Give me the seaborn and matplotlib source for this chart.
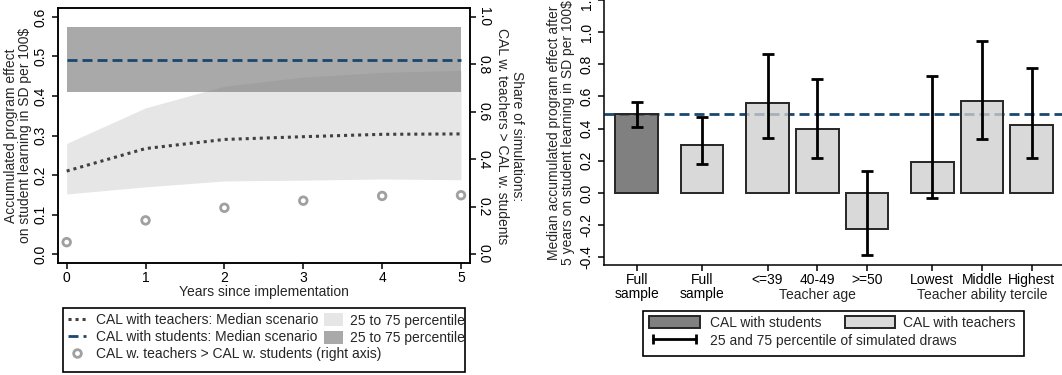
import matplotlib
matplotlib.use("Agg")
import matplotlib.pyplot as plt
from matplotlib.lines import Line2D
from matplotlib.patches import Patch, Rectangle
import seaborn as sns
import pandas as pd

# left panel: accumulated effect over time
years = [0, 1, 2, 3, 4, 5]
teach_median = [0.21, 0.267, 0.29, 0.297, 0.303, 0.304]
teach_p25 = [0.152, 0.17, 0.185, 0.187, 0.19, 0.188]
teach_p75 = [0.28, 0.37, 0.425, 0.448, 0.46, 0.465]
stud_median = 0.49
stud_p25 = 0.41
stud_p75 = 0.575
share_teach_better = [0.05, 0.142, 0.195, 0.225, 0.245, 0.248]

# right panel: effect after 5 years by subgroup
bar_labels = ["Full\nsample", "Full\nsample", "<=39", "40-49", ">=50",
              "Lowest", "Middle", "Highest"]
bar_group = ["students", "teachers", "age", "age", "age",
             "ability", "ability", "ability"]
bar_kind = ["CAL with students"] + ["CAL with teachers"] * 7
bar_median = [0.49, 0.30, 0.56, 0.40, -0.225, 0.19, 0.575, 0.42]
bar_p25 = [0.41, 0.18, 0.34, 0.215, -0.385, -0.03, 0.335, 0.215]
bar_p75 = [0.565, 0.47, 0.865, 0.71, 0.135, 0.73, 0.945, 0.775]
group_titles = {"age": "Teacher age", "ability": "Teacher ability tercile"}

sns.set_style("ticks")
plt.rcParams["font.family"] = ["Liberation Sans", "DejaVu Sans"]
plt.rcParams["font.size"] = 10

W, H = 1062, 375
NAVY = "#1a476f"
DOTS = (0, (1, 1.3))
DASH = (0, (3.6, 1.8))
fig = plt.figure(figsize=(W / 100, H / 100), dpi=100)


def fx(px):
    return px / W


def fy(py):
    # py measured from the top of the picture
    return (H - py) / H


def boxed(x0, y0, x1, y1):
    fig.patches.append(Rectangle((fx(x0), fy(y1)), fx(x1 - x0), (y1 - y0) / H,
                                 transform=fig.transFigure, fill=False,
                                 edgecolor="black", lw=1.2))


def leg(handles, labels, x, top, **kw):
    lg = fig.legend(handles, labels, loc="upper left",
                    bbox_to_anchor=(fx(x), fy(top)), frameon=False,
                    borderpad=0, borderaxespad=0, **kw)
    return lg


# ---------------- left panel ----------------
ax1 = fig.add_axes([fx(58), fy(263.3), fx(412), 255 / H])
ax1.fill_between(years, teach_p25, teach_p75, color="#e6e6e6", lw=0, zorder=1)
ax1.fill_between([years[0], years[-1]], stud_p25, stud_p75,
                 color=(0.47, 0.47, 0.47), alpha=0.63, lw=0, zorder=2)
line_df = pd.DataFrame({"year": years, "median": teach_median})
sns.lineplot(data=line_df, x="year", y="median", ax=ax1, color="#404040",
             lw=2.2, linestyle=DOTS, zorder=3)
sns.lineplot(x=[years[0], years[-1]], y=[stud_median, stud_median], ax=ax1,
             color=NAVY, lw=2, linestyle=DASH, zorder=4)
ax1.set_xlim(-0.11, 5.114)
ax1.set_ylim(-0.0235, 0.622)
ax1.set_yticks([0, 0.1, 0.2, 0.3, 0.4, 0.5, 0.6])
ax1.set_yticklabels([f"{v:.1f}" for v in ax1.get_yticks()])
ax1.set_xticks(years)
ax1.set_xlabel("Years since implementation", labelpad=0)
ax1.set_ylabel("Accumulated program effect\non student learning in SD per 100$",
               labelpad=1, linespacing=1.0)
ax1.tick_params(axis="y", labelrotation=90)
for lab in ax1.get_yticklabels():
    lab.set_va("center")

ax1r = ax1.twinx()
lo, hi = ax1.get_ylim()
sns.scatterplot(x=years, y=share_teach_better, ax=ax1r, s=30, marker="o",
                facecolors="none", edgecolor="#a0a0a0", linewidth=2, zorder=5)
ax1r.set_ylim(lo / 0.6, hi / 0.6)
ax1r.set_yticks([0, 0.2, 0.4, 0.6, 0.8, 1.0])
ax1r.set_yticklabels([f"{v:.1f}" for v in ax1r.get_yticks()])
ax1r.tick_params(axis="y", labelrotation=-90)
for lab in ax1r.get_yticklabels():
    lab.set_va("center")
ax1r.set_ylabel("Share of simulations:\nCAL w. teachers > CAL w. students",
                rotation=-90, va="bottom", labelpad=3, linespacing=1.1)
for ax in (ax1, ax1r):
    for sp in ax.spines.values():
        sp.set_color("black")
        sp.set_linewidth(1.1)
    ax.tick_params(length=4, width=1.1, colors="black")
ax1.tick_params(axis="x", pad=1.5)
ax1r.tick_params(axis="y", pad=1)

boxed(63, 308, 465, 372)
leg([Line2D([], [], color="#404040", lw=2.2, linestyle=DOTS),
     Line2D([], [], color=NAVY, lw=2, linestyle=DASH),
     Line2D([], [], ls="none", marker="o", markersize=5.5, mfc="none",
            mec="#a0a0a0", mew=2)],
    ["CAL with teachers: Median scenario",
     "CAL with students: Median scenario",
     "CAL w. teachers > CAL w. students (right axis)"],
    68, 313.3, handlelength=1.3, handleheight=1.0, handletextpad=0.75,
    labelspacing=0.22, numpoints=1)
leg([Patch(facecolor="#e6e6e6", edgecolor="none"),
     Patch(facecolor=(0.47, 0.47, 0.47), alpha=0.63, edgecolor="none")],
    ["25 to 75 percentile", "25 to 75 percentile"],
    324, 313.3, handlelength=1.37, handleheight=1.07, handletextpad=0.5,
    labelspacing=0.22)

# ---------------- right panel ----------------
pos = []
x = 0.0
for i, g in enumerate(bar_group):
    if i > 0:
        x += 1.0 if g == bar_group[i - 1] else 1.317
    pos.append(x)

bar_df = pd.DataFrame({"pos": pos, "median": bar_median, "kind": bar_kind})
ax2 = fig.add_axes([fx(604), fy(265), fx(458), 265 / H])
ax2.axhline(stud_median, color=NAVY, lw=2, linestyle=DASH, zorder=1)
sns.barplot(data=bar_df, x="pos", y="median", hue="kind", native_scale=True,
            palette={"CAL with students": (0.36, 0.36, 0.36),
                     "CAL with teachers": (0.81, 0.81, 0.81)},
            saturation=1, width=0.86, dodge=False, errorbar=None,
            edgecolor="#262626", linewidth=1.4, legend=False, ax=ax2, zorder=2)
for p in ax2.patches:
    fc = p.get_facecolor()
    p.set_facecolor((fc[0], fc[1], fc[2], 0.78))
yerr = [[m - a for m, a in zip(bar_median, bar_p25)],
        [b - m for m, b in zip(bar_median, bar_p75)]]
ax2.errorbar(pos, bar_median, yerr=yerr, fmt="none", ecolor="black",
             elinewidth=2, capsize=4, capthick=2, zorder=4)

ax2.set_xticks(pos)
ax2.set_xticklabels(bar_labels, linespacing=1.0)
for g, title in group_titles.items():
    members = [p for p, gg in zip(pos, bar_group) if gg == g]
    ax2.annotate(title, xy=(members[len(members) // 2], 0),
                 xycoords=("data", "axes fraction"), xytext=(0, -16.3),
                 textcoords="offset points", ha="center", va="top")
ax2.set_xlim(-0.657, 8.56)
ax2.set_ylim(-0.448, 1.2)
ax2.set_yticks([-0.4, -0.2, 0, 0.2, 0.4, 0.6, 0.8, 1.0, 1.2])
ax2.set_yticklabels([f"{v:.1f}" for v in ax2.get_yticks()])
ax2.tick_params(axis="y", labelrotation=90)
for lab in ax2.get_yticklabels():
    lab.set_va("center")
ax2.set_xlabel("")
ax2.set_ylabel("Median accumulated program effect after\n5 years on student learning in SD per 100$",
               labelpad=3, linespacing=1.0)
sns.despine(ax=ax2)
for sp in ax2.spines.values():
    sp.set_color("black")
    sp.set_linewidth(1.1)
ax2.tick_params(length=4, width=1.1, colors="black")
ax2.tick_params(axis="x", pad=2)

boxed(643, 311, 1024, 356)
leg([Patch(facecolor=(0.5, 0.5, 0.5), edgecolor="#262626", lw=1.4),
     Line2D([], [], color="black", lw=2, marker="|", markersize=7, mew=2)],
    ["CAL with students", "25 and 75 percentile of simulated draws"],
    649, 316, handlelength=3.67, handleheight=0.95, handletextpad=0.72,
    labelspacing=0.27, numpoints=2)
leg([Patch(facecolor=(0.855, 0.855, 0.855), edgecolor="#262626", lw=1.4)],
    ["CAL with teachers"],
    845, 316, handlelength=3.6, handleheight=0.95, handletextpad=0.55,
    labelspacing=0.27)

fig.savefig("out.png", dpi=100)
